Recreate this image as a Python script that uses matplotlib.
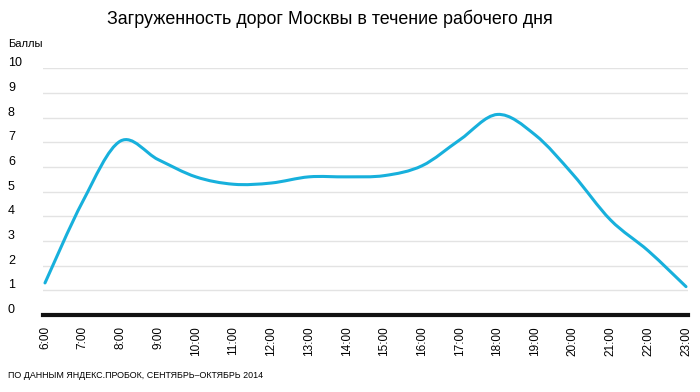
"""
Moscow road congestion over a working day (Yandex.Traffic, Sep-Oct 2014).
"""

import numpy as np
import matplotlib
matplotlib.use("Agg")
import matplotlib.pyplot as plt
from matplotlib.path import Path
from matplotlib.patches import PathPatch

# Data
hours = [6, 7, 8, 9, 10, 11, 12, 13, 14, 15, 16, 17, 18, 19, 20, 21, 22, 23]
scores = [1.3, 4.6, 7.05, 6.3, 5.6, 5.3, 5.35, 5.6, 5.6, 5.65, 6.05, 7.1, 8.13, 7.3, 5.7, 3.85, 2.6, 1.15]
hour_labels = [f"{h}:00" for h in hours]
y_ticks = list(range(0, 11))

LINE_COLOR = '#17b0dc'
GRID_COLOR = '#e3e3e3'

plt.rcParams['font.family'] = ['Liberation Sans', 'DejaVu Sans']


def smooth_path(xs, ys, tension=1 / 6):
    """Catmull-Rom style cubic Bezier path through the points."""
    pts = np.column_stack([np.asarray(xs, float), np.asarray(ys, float)])
    verts = [pts[0]]
    codes = [Path.MOVETO]
    n = len(pts)
    for i in range(n - 1):
        p0 = pts[i - 1] if i > 0 else pts[i]
        p1 = pts[i]
        p2 = pts[i + 1]
        p3 = pts[i + 2] if i + 2 < n else pts[i + 1]
        verts += [p1 + (p2 - p0) * tension, p2 - (p3 - p1) * tension, p2]
        codes += [Path.CURVE4] * 3
    return Path(verts, codes)


fig = plt.figure(figsize=(7, 3.92), dpi=100)
fig.patch.set_facecolor('white')

W, H = 700, 392
left, right = 43 / W, 688 / W
bottom, top = (H - 315) / H, (H - 68.3) / H
ax = fig.add_axes([left, bottom, right - left, top - bottom])

step = (686 - 45) / 17
ax.set_xlim(6 - 2 / step, 23 + 2 / step)
ax.set_ylim(0, 10)

# gridlines
for v in y_ticks[1:]:
    ax.axhline(v, color=GRID_COLOR, lw=1, zorder=1)
ax.axhline(0, color='#111111', lw=3.0, zorder=3, clip_on=False)

# smoothed line
patch = PathPatch(smooth_path(hours, scores), facecolor='none',
                  edgecolor=LINE_COLOR, lw=2.2, capstyle='round',
                  joinstyle='round', zorder=4)
ax.add_patch(patch)

for s in ax.spines.values():
    s.set_visible(False)
ax.set_yticks([])
ax.set_xticks(hours)
ax.set_xticklabels(hour_labels, rotation=90, fontsize=8.5, va='top', ha='center')
ax.tick_params(axis='x', length=0, pad=8)

# y labels at the far left, sitting just above their gridlines
for v in y_ticks:
    y_fig = (H - (315 - v * 24.67) + 5) / H
    fig.text(8 / W, y_fig, str(v), fontsize=9, ha='left', va='center')

fig.text(8 / W, (H - 44) / H, 'Баллы', fontsize=8, ha='left', va='center')

fig.text(330 / W, (H - 19) / H, 'Загруженность дорог Москвы в течение рабочего дня',
         fontsize=12.9, ha='center', va='center')

fig.text(8 / W, (H - 376) / H, 'ПО ДАННЫМ ЯНДЕКС.ПРОБОК, СЕНТЯБРЬ–ОКТЯБРЬ 2014',
         fontsize=6.4, ha='left', va='center')

fig.savefig('out.png', dpi=100, facecolor='white')
